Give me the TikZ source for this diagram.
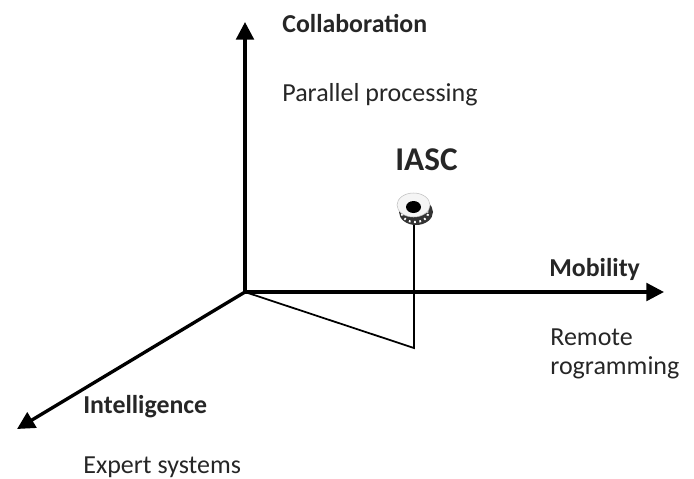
\documentclass[tikz,border=0pt]{standalone}
\usepackage{fontspec}
\setmainfont{Carlito}
\usetikzlibrary{arrows.meta}
\tikzset{
    axis/.style={line width=1.9pt, -{Triangle[length=10pt,width=10pt]}},
    heading/.style={anchor=west, inner sep=0pt, font=\bfseries\fontsize{14.7}{16}\selectfont, text=black!85},
    entry/.style={anchor=west, inner sep=0pt, align=left, font=\fontsize{14.8}{16.5}\selectfont, text=black!85},
}
\begin{document}
\begin{tikzpicture}[x=0.02cm, y=-0.02cm]
        \useasboundingbox (0, 0) rectangle (694, 478);
        \coordinate (O) at (245, 292);
        \coordinate (Z) at (245, 22);
        \coordinate (X) at (664, 292);
        \coordinate (Y) at (17, 429);
        \coordinate (F) at (414, 348);
        \coordinate (P) at (414, 218);
        \draw[axis] (O) -- (Z);
        \draw[axis] (O) -- (X);
        \draw[axis] (O) -- (Y);
        \draw[line width=1pt] (O) -- (F) -- (P);
        % the disc
        \fill[black!80] (416, 212) ellipse (17 and 13);
        \draw[white, line width=1.2pt, dash pattern=on 1pt off 2pt] (415, 214) ellipse (13 and 8);
        \draw[black!25, fill=black!4, line width=0.3pt] (413.5, 205) ellipse (16.5 and 12);
        \fill[black] (413.5, 207) ellipse (7.5 and 6);
        \node[heading] (collab) at (282, 24) {Collaboration};
        \node[entry] (parallel) at (282, 95) {Parallel processing};
        \node[heading, font=\bfseries\fontsize{18.9}{20}\selectfont] (iasc) at (395, 160) {IASC};
        \node[heading] (mobility) at (549, 269) {Mobility};
        \node[entry] (remote) at (550, 354) {Remote\\rogramming};
        \node[heading] (intel) at (83, 407) {Intelligence};
        \node[entry] (expert) at (83, 467) {Expert systems};
    \end{tikzpicture}
\end{document}
